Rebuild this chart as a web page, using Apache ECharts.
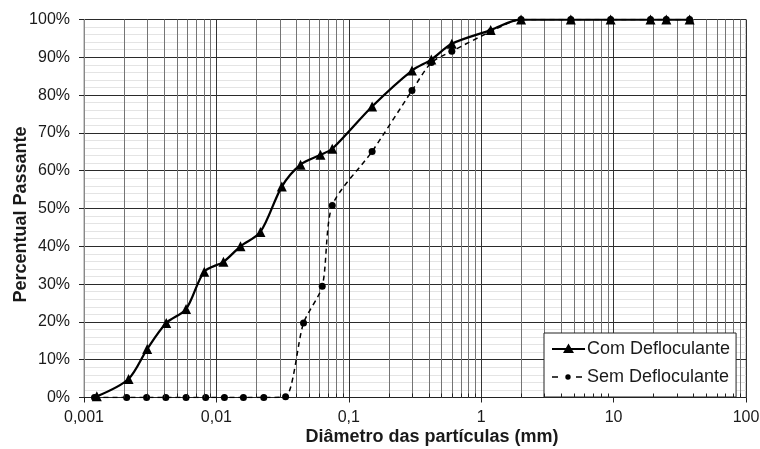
<!DOCTYPE html>
<html>
<head>
<meta charset="utf-8">
<script src="https://cdn.jsdelivr.net/npm/echarts@6/dist/echarts.min.js"></script>
<style>
  html, body { margin: 0; padding: 0; background: #fff; }
  #chart { width: 760px; height: 449px; }
</style>
</head>
<body>
<div id="chart"></div>
<script>
// diâmetros (mm) e percentuais passantes
const diamCom = [0.00125, 0.00217, 0.0030, 0.00418, 0.0059, 0.0081, 0.0113, 0.0152, 0.0215,
  0.0312, 0.0432, 0.0611, 0.075, 0.15, 0.3, 0.42, 0.6, 1.18, 2.0, 4.75, 9.5, 19, 25, 37.5];
const passCom = [0.3, 4.9, 12.8, 19.7, 23.4, 33.3, 35.9, 40.0, 43.8,
  55.8, 61.6, 64.2, 65.8, 77.0, 86.5, 89.4, 93.6, 97.2, 100, 100, 100, 100, 100, 100];

const diamSem = [0.0012, 0.0021, 0.00297, 0.00415, 0.0059, 0.0083, 0.0115, 0.016, 0.0228,
  0.0333, 0.0455, 0.063, 0.075, 0.15, 0.3, 0.42, 0.6, 1.18, 2.0, 4.75, 9.5, 19, 25, 37.5];
const passSem = [0, 0, 0, 0, 0, 0, 0, 0, 0,
  0.2, 19.7, 29.4, 50.8, 65.1, 81.2, 88.6, 91.6, 96.8, 100, 100, 100, 100, 100, 100];

const nomeCom = "Com Defloculante";
const nomeSem = "Sem Defloculante";

// linhas de grade secundárias (2..9 em cada década)
const decadas = [0.001, 0.01, 0.1, 1, 10];
const minorX = [];
decadas.forEach((d) => {
  for (let m = 2; m <= 9; m++) minorX.push([+(m * d).toPrecision(2), 0]);
});

// ícones da legenda (caixa 33x18): linha + marcador, como no Excel
const cantos = "M0 0 L0.01 0 L0.01 0.01 Z M33 18 L32.99 18 L32.99 17.99 Z ";
const iconeCom = "path://" + cantos + "M0 8 L33 8 L33 10 L0 10 Z M16.5 3.5 L22 13 L11 13 Z";
const iconeSem = "path://" + cantos +
  "M0 8.3 L6 8.3 L6 9.7 L0 9.7 Z M24 8.3 L30 8.3 L30 9.7 L24 9.7 Z " +
  "M13.3 9 A2.7 2.7 0 1 0 18.7 9 A2.7 2.7 0 1 0 13.3 9 Z";

const fonte = "Liberation Sans, Arial, sans-serif";
const corTexto = "#1a1a1a";

function pares(xs, ys) {
  return xs.map((x, i) => [x, ys[i]]);
}

// linha vertical na posição x (grade ou tracinho do eixo)
function linhaVertical(cor, comprimento) {
  return (params, api) => {
    const b = api.coord([api.value(0), 0]);
    const t = api.coord([api.value(0), 100]);
    const x = Math.round(b[0]) + 0.5;
    const y2 = comprimento ? b[1] - comprimento : t[1];
    return {
      type: "line",
      shape: { x1: x, y1: b[1], x2: x, y2: y2 },
      style: { stroke: cor, lineWidth: 1 },
    };
  };
}

const chart = echarts.init(document.getElementById("chart"), null, { renderer: "canvas" });

const option = {
  animation: false,
  backgroundColor: "#fff",
  textStyle: { fontFamily: fonte, color: corTexto },
  grid: {
    left: 84,
    right: 14,
    top: 19.5,
    bottom: 51.5,
    containLabel: false,
    outerBoundsMode: "none",
    show: true,
    borderColor: "#9a9a9a",
    borderWidth: 1,
    backgroundColor: "transparent",
  },
  legend: {
    data: [
      { name: nomeCom, icon: iconeCom },
      { name: nomeSem, icon: iconeSem },
    ],
    orient: "vertical",
    left: 544,
    top: 333,
    padding: [7, 6, 11, 8],
    itemGap: 10,
    itemWidth: 33,
    itemHeight: 18,
    itemStyle: { borderWidth: 0 },
    backgroundColor: "#fff",
    borderColor: "#222",
    borderWidth: 1,
    borderRadius: 0,
    textStyle: { fontFamily: fonte, fontSize: 18, color: corTexto, padding: [0, 0, 0, -3] },
  },
  xAxis: {
    type: "log",
    logBase: 10,
    min: 0.001,
    max: 100,
    name: "Diâmetro das partículas (mm)",
    nameLocation: "middle",
    nameGap: 31,
    nameMoveOverlap: false,
    nameTextStyle: {
      fontFamily: fonte,
      fontSize: 18,
      fontWeight: "bold",
      color: corTexto,
      padding: [0, 0, 0, 34],
    },
    axisLine: { show: true, onZero: false, lineStyle: { color: "#222", width: 1 } },
    axisTick: { show: true, inside: false, length: 5, lineStyle: { color: "#222" } },
    axisLabel: {
      fontFamily: fonte,
      fontSize: 16,
      color: corTexto,
      margin: 12,
      formatter: (v) => String(+v.toPrecision(1)).replace(".", ","),
    },
    splitLine: { show: true, lineStyle: { color: "#333", width: 1 } },
  },
  yAxis: {
    type: "value",
    min: 0,
    max: 100,
    interval: 10,
    name: "Percentual Passante",
    nameLocation: "middle",
    nameRotate: 90,
    nameGap: 54,
    nameMoveOverlap: false,
    nameTextStyle: {
      fontFamily: fonte,
      fontSize: 18,
      fontWeight: "bold",
      color: corTexto,
      padding: [0, 12, 0, 0],
    },
    axisLine: { show: true, lineStyle: { color: "#888", width: 1 } },
    axisTick: { show: true, inside: false, length: 5, lineStyle: { color: "#222" } },
    axisLabel: {
      fontFamily: fonte,
      fontSize: 16,
      color: corTexto,
      margin: 14,
      formatter: "{value}%",
    },
    splitLine: { show: true, lineStyle: { color: "#2a2a2a", width: 1 } },
    minorTick: { show: false, splitNumber: 5 },
    minorSplitLine: { show: true, lineStyle: { color: "#e4e4e4", width: 1 } },
  },
  series: [
    {
      // grade vertical secundária
      type: "custom",
      silent: true,
      z: 1,
      data: minorX,
      renderItem: linhaVertical("#747474", 0),
    },
    {
      // tracinhos secundários do eixo x (por cima da legenda)
      type: "custom",
      silent: true,
      z: 6,
      data: minorX,
      renderItem: linhaVertical("#222", 4),
    },
    {
      name: nomeSem,
      type: "line",
      z: 3,
      data: pares(diamSem, passSem),
      smooth: 0.25,
      symbol: "circle",
      symbolSize: 7,
      showAllSymbol: true,
      lineStyle: { color: "#000", width: 1.5, type: [5, 4] },
      itemStyle: { color: "#000" },
    },
    {
      name: nomeCom,
      type: "line",
      z: 4,
      data: pares(diamCom, passCom),
      smooth: 0.3,
      symbol: "triangle",
      symbolSize: 10,
      showAllSymbol: true,
      lineStyle: { color: "#000", width: 2.25 },
      itemStyle: { color: "#000" },
    },
  ],
};

chart.setOption(option);
</script>
</body>
</html>
